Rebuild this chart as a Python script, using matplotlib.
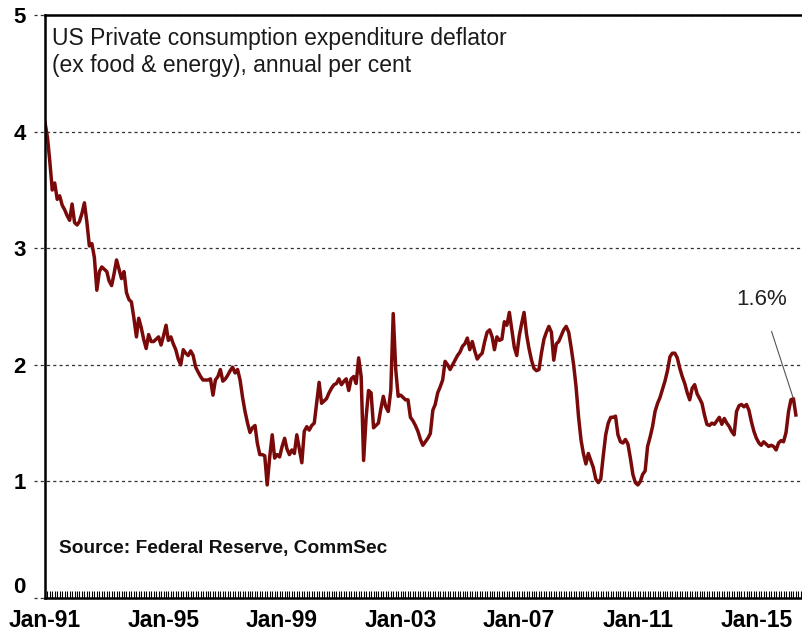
import numpy as np
import pandas as pd
import matplotlib
matplotlib.use("Agg")
import matplotlib.pyplot as plt
import matplotlib.dates as mdates

# Core PCE deflator, annual % change, monthly from Jan-1991
values_1991 = [4.08, 3.95, 3.75, 3.50, 3.56, 3.42, 3.45, 3.37, 3.33, 3.28, 3.24, 3.38]
values_1992 = [3.22, 3.20, 3.23, 3.30, 3.39, 3.22, 3.02, 3.04, 2.92, 2.64, 2.80, 2.84]
values_1993 = [2.82, 2.80, 2.72, 2.68, 2.78, 2.90, 2.82, 2.74, 2.80, 2.62, 2.56, 2.54]
values_1994 = [2.40, 2.24, 2.40, 2.32, 2.22, 2.14, 2.26, 2.20, 2.20, 2.22, 2.24, 2.17]
values_1995 = [2.25, 2.34, 2.21, 2.24, 2.18, 2.13, 2.05, 2.00, 2.13, 2.10, 2.08, 2.12]
values_1996 = [2.08, 1.98, 1.94, 1.90, 1.87, 1.87, 1.87, 1.88, 1.74, 1.87, 1.90, 1.96]
values_1997 = [1.86, 1.88, 1.91, 1.95, 1.98, 1.93, 1.96, 1.87, 1.72, 1.60, 1.50, 1.42]
values_1998 = [1.46, 1.48, 1.33, 1.23, 1.23, 1.22, 0.97, 1.21, 1.40, 1.20, 1.23, 1.21]
values_1999 = [1.30, 1.37, 1.28, 1.23, 1.27, 1.24, 1.40, 1.28, 1.16, 1.43, 1.47, 1.44]
values_2000 = [1.48, 1.50, 1.67, 1.85, 1.67, 1.69, 1.71, 1.76, 1.80, 1.83, 1.84, 1.88]
values_2001 = [1.83, 1.86, 1.88, 1.78, 1.88, 1.90, 1.84, 2.06, 1.90, 1.18, 1.55, 1.78]
values_2002 = [1.76, 1.46, 1.48, 1.50, 1.62, 1.73, 1.64, 1.60, 1.78, 2.44, 1.96, 1.73]
values_2003 = [1.74, 1.72, 1.70, 1.70, 1.55, 1.52, 1.48, 1.43, 1.36, 1.31, 1.34, 1.37]
values_2004 = [1.41, 1.61, 1.66, 1.76, 1.81, 1.87, 2.03, 2.00, 1.96, 2.00, 2.04, 2.08]
values_2005 = [2.11, 2.16, 2.18, 2.23, 2.13, 2.20, 2.12, 2.05, 2.08, 2.10, 2.20, 2.28]
values_2006 = [2.30, 2.24, 2.13, 2.24, 2.21, 2.22, 2.37, 2.34, 2.45, 2.30, 2.15, 2.08]
values_2007 = [2.25, 2.36, 2.45, 2.26, 2.14, 2.04, 1.97, 1.95, 1.96, 2.10, 2.22, 2.28]
values_2008 = [2.33, 2.28, 2.04, 2.18, 2.20, 2.25, 2.30, 2.33, 2.28, 2.15, 2.00, 1.81]
values_2009 = [1.55, 1.35, 1.24, 1.15, 1.24, 1.18, 1.12, 1.02, 0.99, 1.02, 1.22, 1.40]
values_2010 = [1.50, 1.55, 1.55, 1.56, 1.40, 1.34, 1.33, 1.36, 1.32, 1.20, 1.06, 0.99]
values_2011 = [0.97, 1.00, 1.06, 1.09, 1.30, 1.38, 1.47, 1.60, 1.67, 1.72, 1.79, 1.86]
values_2012 = [1.95, 2.07, 2.10, 2.10, 2.06, 1.97, 1.90, 1.84, 1.76, 1.70, 1.80, 1.83]
values_2013 = [1.75, 1.71, 1.67, 1.57, 1.49, 1.48, 1.50, 1.49, 1.52, 1.55, 1.49, 1.54]
values_2014 = [1.50, 1.47, 1.43, 1.40, 1.60, 1.65, 1.66, 1.64, 1.66, 1.61, 1.51, 1.43]
values_2015 = [1.37, 1.33, 1.31, 1.34, 1.32, 1.30, 1.31, 1.30, 1.27, 1.33, 1.35, 1.34]
values_2016 = [1.42, 1.60, 1.70, 1.71, 1.57]

values = (values_1991 + values_1992 + values_1993 + values_1994 + values_1995
          + values_1996 + values_1997 + values_1998 + values_1999 + values_2000
          + values_2001 + values_2002 + values_2003 + values_2004 + values_2005
          + values_2006 + values_2007 + values_2008 + values_2009 + values_2010
          + values_2011 + values_2012 + values_2013 + values_2014 + values_2015
          + values_2016)
dates = pd.date_range("1991-01-01", periods=len(values), freq="MS")

tick_dates = pd.to_datetime(["1991-01-01", "1995-01-01", "1999-01-01", "2003-01-01",
                             "2007-01-01", "2011-01-01", "2015-01-01"])
y_ticks = [0, 1, 2, 3, 4, 5]

latest_label = "1.6%"

plt.rcParams['font.family'] = ['Liberation Sans', 'DejaVu Sans']

fig = plt.figure(figsize=(8.03, 6.31), dpi=100)
ax = fig.add_axes([0.056, 0.0523, 0.944, 0.9237])

ax.plot(dates, values, color="#7a0a0a", linewidth=2.5, solid_joinstyle="round")

ax.set_ylim(0, 5)
ax.set_xlim(pd.Timestamp("1991-01-01"), pd.Timestamp("2016-07-28"))

# dashed gridlines that run a little past the left axis
for v in y_ticks:
    ax.plot([-0.014, 1], [v, v], transform=ax.get_yaxis_transform(), clip_on=False,
            color="#333333", linewidth=0.9, linestyle=(0, (2.5, 2.5)), zorder=0)

ax.set_yticks(y_ticks)
ax.set_yticklabels([str(v) for v in y_ticks], fontsize=16, fontweight="bold")
ax.tick_params(axis="y", length=0, pad=14)
# the zero label sits a touch higher so it clears the date labels
ax.get_yticklabels()[0].set_verticalalignment("bottom")

ax.set_xticks(tick_dates)
ax.xaxis.set_major_formatter(mdates.DateFormatter("%b-%y"))
ax.xaxis.set_minor_locator(mdates.MonthLocator())
ax.tick_params(axis="x", which="major", direction="in", length=5, width=0.8, pad=8,
               labelsize=16.5)
ax.tick_params(axis="x", which="minor", direction="in", length=5, width=0.8)
for lbl in ax.get_xticklabels():
    lbl.set_fontweight("bold")

for side in ["left", "bottom", "top"]:
    ax.spines[side].set_linewidth(1.8)
    ax.spines[side].set_color("black")
ax.spines["right"].set_visible(False)

ax.text(0.009, 0.98, "US Private consumption expenditure deflator\n(ex food & energy), annual per cent",
        transform=ax.transAxes, ha="left", va="top", fontsize=16.5, color="#1a1a1a",
        linespacing=1.25)
ax.text(0.018, 0.07, "Source: Federal Reserve, CommSec", transform=ax.transAxes,
        ha="left", va="bottom", fontsize=13.8, fontweight="bold", color="#111111")

# annotation for the latest reading
ax.annotate(latest_label, xy=(dates[-2], values[-2]), xytext=(pd.Timestamp("2015-03-01"), 2.56),
            ha="center", va="center", fontsize=16, color="#222222",
            arrowprops=dict(arrowstyle="-", color="#555555", linewidth=0.8,
                            shrinkA=14, shrinkB=0))

fig.savefig("out.png", dpi=100)
